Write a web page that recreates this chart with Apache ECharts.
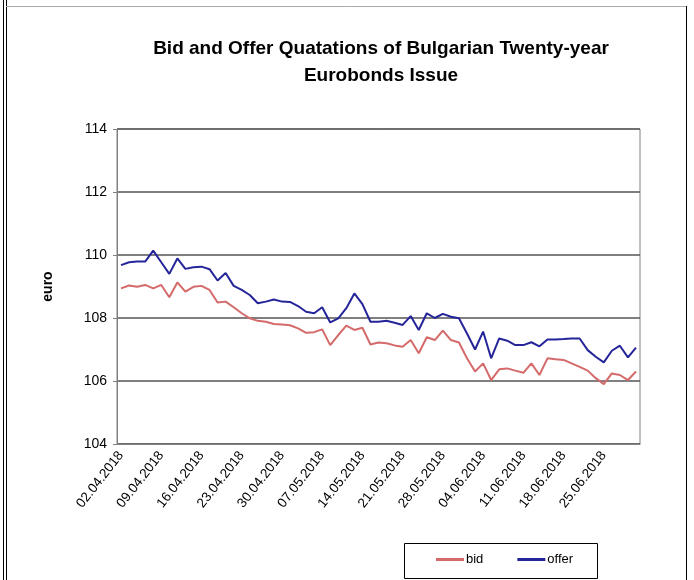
<!DOCTYPE html>
<html>
<head>
<meta charset="utf-8">
<script src="https://cdn.jsdelivr.net/npm/echarts@6/dist/echarts.min.js"></script>
<style>
  html, body { margin: 0; padding: 0; background: #fff; }
  #chart { width: 694px; height: 580px; }
</style>
</head>
<body>
<div id="chart"></div>
<script>
'use strict';

// trading days, 02.04.2018 - 29.06.2018
var days = [
    '02.04.2018', '03.04.2018', '04.04.2018', '05.04.2018', '06.04.2018',
    '09.04.2018', '10.04.2018', '11.04.2018', '12.04.2018', '13.04.2018',
    '16.04.2018', '17.04.2018', '18.04.2018', '19.04.2018', '20.04.2018',
    '23.04.2018', '24.04.2018', '25.04.2018', '26.04.2018', '27.04.2018',
    '30.04.2018', '01.05.2018', '02.05.2018', '03.05.2018', '04.05.2018',
    '07.05.2018', '08.05.2018', '09.05.2018', '10.05.2018', '11.05.2018',
    '14.05.2018', '15.05.2018', '16.05.2018', '17.05.2018', '18.05.2018',
    '21.05.2018', '22.05.2018', '23.05.2018', '24.05.2018', '25.05.2018',
    '28.05.2018', '29.05.2018', '30.05.2018', '31.05.2018', '01.06.2018',
    '04.06.2018', '05.06.2018', '06.06.2018', '07.06.2018', '08.06.2018',
    '11.06.2018', '12.06.2018', '13.06.2018', '14.06.2018', '15.06.2018',
    '18.06.2018', '19.06.2018', '20.06.2018', '21.06.2018', '22.06.2018',
    '25.06.2018', '26.06.2018', '27.06.2018', '28.06.2018', '29.06.2018'
];

var bid = [
    108.94, 109.03, 108.99, 109.05, 108.94, 109.05, 108.66, 109.13, 108.84, 108.99,
    109.02, 108.89, 108.49, 108.52, 108.34, 108.15, 107.99, 107.91, 107.88, 107.81,
    107.79, 107.77, 107.67, 107.53, 107.55, 107.64, 107.14, 107.46, 107.76, 107.62,
    107.69, 107.16, 107.22, 107.20, 107.13, 107.09, 107.30, 106.88, 107.39, 107.30,
    107.60, 107.30, 107.22, 106.72, 106.30, 106.56, 106.03, 106.37, 106.40, 106.33,
    106.26, 106.56, 106.19, 106.72, 106.69, 106.67, 106.56, 106.45, 106.33, 106.09,
    105.90, 106.24, 106.19, 106.03, 106.30
];

var offer = [
    109.68, 109.77, 109.79, 109.79, 110.14, 109.77, 109.40, 109.89, 109.56, 109.61,
    109.63, 109.55, 109.19, 109.43, 109.02, 108.89, 108.73, 108.47, 108.52, 108.59,
    108.52, 108.51, 108.38, 108.20, 108.15, 108.34, 107.86, 107.99, 108.31, 108.78,
    108.44, 107.88, 107.88, 107.91, 107.85, 107.78, 108.06, 107.62, 108.15, 108.00,
    108.13, 108.04, 107.99, 107.51, 107.00, 107.57, 106.72, 107.35, 107.28, 107.14,
    107.14, 107.23, 107.10, 107.32, 107.32, 107.33, 107.35, 107.35, 106.98, 106.77,
    106.59, 106.96, 107.12, 106.75, 107.06
];

var yMin = 104, yMax = 114, yStep = 2;

var font = 'Liberation Sans, Arial, sans-serif';
var chart = echarts.init(document.getElementById('chart'));

chart.setOption({
    animation: false,
    backgroundColor: '#fff',
    textStyle: { fontFamily: font },
    title: {
        text: 'Bid and Offer Quatations of Bulgarian Twenty-year\nEurobonds Issue',
        left: 376,
        top: 30,
        textAlign: 'center',
        textStyle: {
            fontSize: 19,
            fontWeight: 'bold',
            color: '#000',
            lineHeight: 27,
            fontFamily: font
        }
    },
    legend: {
        left: 436,
        top: 553,
        padding: 0,
        itemGap: 34,
        itemWidth: 28,
        itemHeight: 3,
        icon: 'rect',
        textStyle: { fontSize: 13, color: '#000', padding: [0, 0, 0, -3] },
        data: ['bid', 'offer']
    },
    grid: {
        left: 117,
        right: 54,
        top: 129,
        bottom: 136,
        show: true,
        borderColor: '#808080',
        borderWidth: 1
    },
    xAxis: {
        type: 'category',
        boundaryGap: true,
        data: days,
        axisLine: { lineStyle: { color: '#808080', width: 1 } },
        axisTick: { interval: 9, length: 5, lineStyle: { color: '#808080' } },
        axisLabel: {
            interval: 4,
            rotate: 52,
            fontSize: 13.5,
            color: '#000',
            margin: 9
        },
        splitLine: { show: false }
    },
    yAxis: {
        type: 'value',
        min: yMin,
        max: yMax,
        interval: yStep,
        name: 'euro',
        nameLocation: 'middle',
        nameRotate: 90,
        nameGap: 62,
        nameTextStyle: { fontSize: 14, fontWeight: 'bold', color: '#000' },
        axisLine: { show: true, lineStyle: { color: '#808080', width: 1 } },
        axisTick: { show: true, length: 4, lineStyle: { color: '#808080' } },
        axisLabel: { fontSize: 14, color: '#000', margin: 10 },
        splitLine: { lineStyle: { color: '#555', width: 1.5 } }
    },
    series: [
        {
            name: 'bid',
            type: 'line',
            data: bid,
            symbol: 'none',
            lineStyle: { color: '#d46a6a', width: 2 },
            itemStyle: { color: '#d46a6a' }
        },
        {
            name: 'offer',
            type: 'line',
            data: offer,
            symbol: 'none',
            lineStyle: { color: '#25259a', width: 2 },
            itemStyle: { color: '#25259a' }
        }
    ],
    graphic: [
        { type: 'rect', shape: { x: 404.5, y: 543.5, width: 193, height: 35 }, style: { fill: 'none', stroke: '#000', lineWidth: 1 } },
        { type: 'line', shape: { x1: 3.5, y1: 0, x2: 3.5, y2: 580 }, style: { stroke: '#000', lineWidth: 1 } },
        { type: 'line', shape: { x1: 6.5, y1: 0, x2: 6.5, y2: 580 }, style: { stroke: '#000', lineWidth: 1 } },
        { type: 'line', shape: { x1: 6, y1: 6.5, x2: 687, y2: 6.5 }, style: { stroke: '#aaa', lineWidth: 1 } },
        { type: 'line', shape: { x1: 686.5, y1: 6, x2: 686.5, y2: 580 }, style: { stroke: '#000', lineWidth: 1 } }
    ]
});
</script>
</body>
</html>
